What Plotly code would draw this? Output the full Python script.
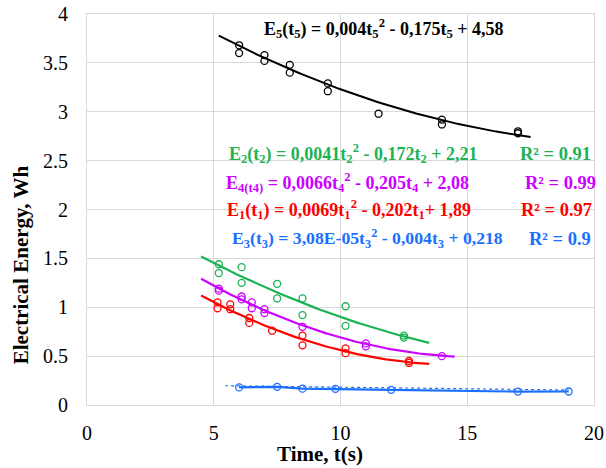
import numpy as np
import plotly.graph_objects as go

# ---------------- data ----------------
t5 = [6, 6, 7, 7, 8, 8, 9.5, 9.5, 11.5, 14, 14, 17, 17]
e5 = [3.68, 3.60, 3.58, 3.52, 3.48, 3.40, 3.29, 3.21, 2.98, 2.92, 2.87, 2.80, 2.78]

t2 = [5.2, 5.2, 6.1, 6.1, 7.5, 7.5, 8.5, 8.5, 10.2, 10.2, 12.5, 12.5]
e2 = [1.44, 1.35, 1.41, 1.25, 1.24, 1.09, 1.09, 0.92, 1.01, 0.81, 0.71, 0.69]

t4 = [5.2, 5.2, 6.1, 6.1, 6.5, 6.5, 7.0, 7.0, 8.5, 11.0, 11.0, 14.0]
e4 = [1.19, 1.17, 1.11, 1.08, 1.05, 0.99, 0.98, 0.94, 0.80, 0.63, 0.60, 0.50]

t1 = [5.15, 5.15, 5.65, 5.65, 6.4, 6.4, 7.3, 8.5, 8.5, 10.2, 10.2, 12.7, 12.7]
e1 = [1.05, 0.99, 1.03, 0.98, 0.89, 0.84, 0.76, 0.71, 0.61, 0.58, 0.53, 0.45, 0.43]

t3 = [6.0, 7.5, 8.5, 9.8, 12.0, 17.0, 19.0]
e3 = [0.18, 0.186, 0.167, 0.165, 0.155, 0.137, 0.138]

# trendline coefficients (a, b, c) of a*t^2 + b*t + c and drawn ranges
coef5 = [0.004, -0.175, 4.58];     range5 = [5.2, 17.5]
coef2 = [0.0041, -0.172, 2.21];    range2 = [4.5, 13.5]
coef4 = [0.0066, -0.205, 2.08];    range4 = [4.5, 14.5]
coef1 = [0.0069, -0.202, 1.89];    range1 = [4.5, 13.5]
coef3 = [3.08e-5, -0.004, 0.218];  range3 = [5.45, 19.0]

x_ticks = [0, 5, 10, 15, 20]
y_ticks = [0, 0.5, 1, 1.5, 2, 2.5, 3, 3.5, 4]

# ---------------- style ----------------
BLACK = "#000000"
GREEN = "#1db254"
PURPLE = "#cc00ff"
RED = "#ff0000"
BLUE = "#1a6fff"

W, H = 606, 468
L, R, T, B = 87.3, 594, 14, 405.5


def px2paper(px, py):
    return (px - L) / (R - L), (B - py) / (B - T)


fig = go.Figure()


def add_series(t, e, coef, rng, color, lw=2.2, connect=False):
    xs = np.linspace(rng[0], rng[1], 80)
    ys = coef[0] * xs ** 2 + coef[1] * xs + coef[2]
    if connect:
        fig.add_trace(go.Scatter(x=xs, y=ys, mode="lines",
                                 line=dict(color=color, width=1.2, dash="dot"),
                                 showlegend=False, hoverinfo="skip"))
        fig.add_trace(go.Scatter(x=t, y=e, mode="lines", line=dict(color=color, width=2.2),
                                 showlegend=False, hoverinfo="skip"))
    else:
        fig.add_trace(go.Scatter(x=xs, y=ys, mode="lines", line=dict(color=color, width=lw),
                                 showlegend=False, hoverinfo="skip"))
    fig.add_trace(go.Scatter(x=t, y=e, mode="markers",
                             marker=dict(symbol="circle-open", size=7, color=color,
                                         line=dict(width=1.3, color=color)),
                             showlegend=False))


add_series(t5, e5, coef5, range5, BLACK, lw=2)
add_series(t2, e2, coef2, range2, GREEN)
add_series(t4, e4, coef4, range4, PURPLE)
add_series(t1, e1, coef1, range1, RED)
add_series(t3, e3, coef3, range3, BLUE, connect=True)

FONT = "Liberation Serif"


def note(text, px, py, color, size=18, anchor="left", bold=True, angle=0):
    x, y = px2paper(px, py)
    fig.add_annotation(text=f"<b>{text}</b>" if bold else text, x=x, y=y, xref="paper", yref="paper",
                       xanchor=anchor, yanchor="middle", showarrow=False, textangle=angle,
                       font=dict(family=FONT, size=size, color=color))


note("E<sub>5</sub>(t<sub>5</sub>) = 0,004t<sub>5</sub><sup>2</sup> - 0,175t<sub>5</sub> + 4,58", 262, 29, BLACK)
note("E<sub>2</sub>(t<sub>2</sub>) = 0,0041t<sub>2</sub><sup>2</sup> - 0,172t<sub>2</sub> + 2,21", 227, 154, GREEN)
note("R² = 0.91", 518, 154, GREEN, size=18.5)
note("E<sub>4(t4)</sub> = 0,0066t<sub>4</sub><sup>2</sup> - 0,205t<sub>4</sub> + 2,08", 224, 183, PURPLE)
note("R² = 0.99", 523, 183, PURPLE, size=18.5)
note("E<sub>1</sub>(t<sub>1</sub>) = 0,0069t<sub>1</sub><sup>2</sup> - 0,202t<sub>1</sub>+ 1,89", 225, 210, RED)
note("R² = 0.97", 519, 210, RED, size=18.5)
note("E<sub>3</sub>(t<sub>3</sub>) = 3,08E-05t<sub>3</sub><sup>2</sup> - 0,004t<sub>3</sub> + 0,218", 230, 239, BLUE, size=17.7)
note("R² = 0.9", 527, 239, BLUE, size=18.5)

# axis titles
note("Electrical Energy, Wh", 21, 265, BLACK, size=21, anchor="center", angle=-90)
note("Time, t(s)", 320, 455, BLACK, size=21, anchor="center")

grid = "#d9d9d9"
fig.update_xaxes(range=[0, 20], tickvals=x_ticks, showgrid=True, gridcolor=grid, gridwidth=1,
                 zeroline=False, showline=True, linecolor=grid, mirror=True,
                 tickfont=dict(family=FONT, size=20, color="#000"), ticks="", ticklabelstandoff=10,
                 ticklabeloverflow="allow")
fig.update_yaxes(range=[0, 4], tickvals=y_ticks, showgrid=True, gridcolor=grid, gridwidth=1,
                 zeroline=False, showline=True, linecolor=grid, mirror=True,
                 tickfont=dict(family=FONT, size=20, color="#000"), ticks="", ticklabelstandoff=14,
                 ticklabeloverflow="allow")

fig.update_layout(width=W, height=H, plot_bgcolor="white", paper_bgcolor="white",
                  margin=dict(l=L, r=W - R, t=T, b=H - B, autoexpand=False))

fig.write_html("out.html", config={"displayModeBar": False},
               post_script="document.body.style.margin='0';")
